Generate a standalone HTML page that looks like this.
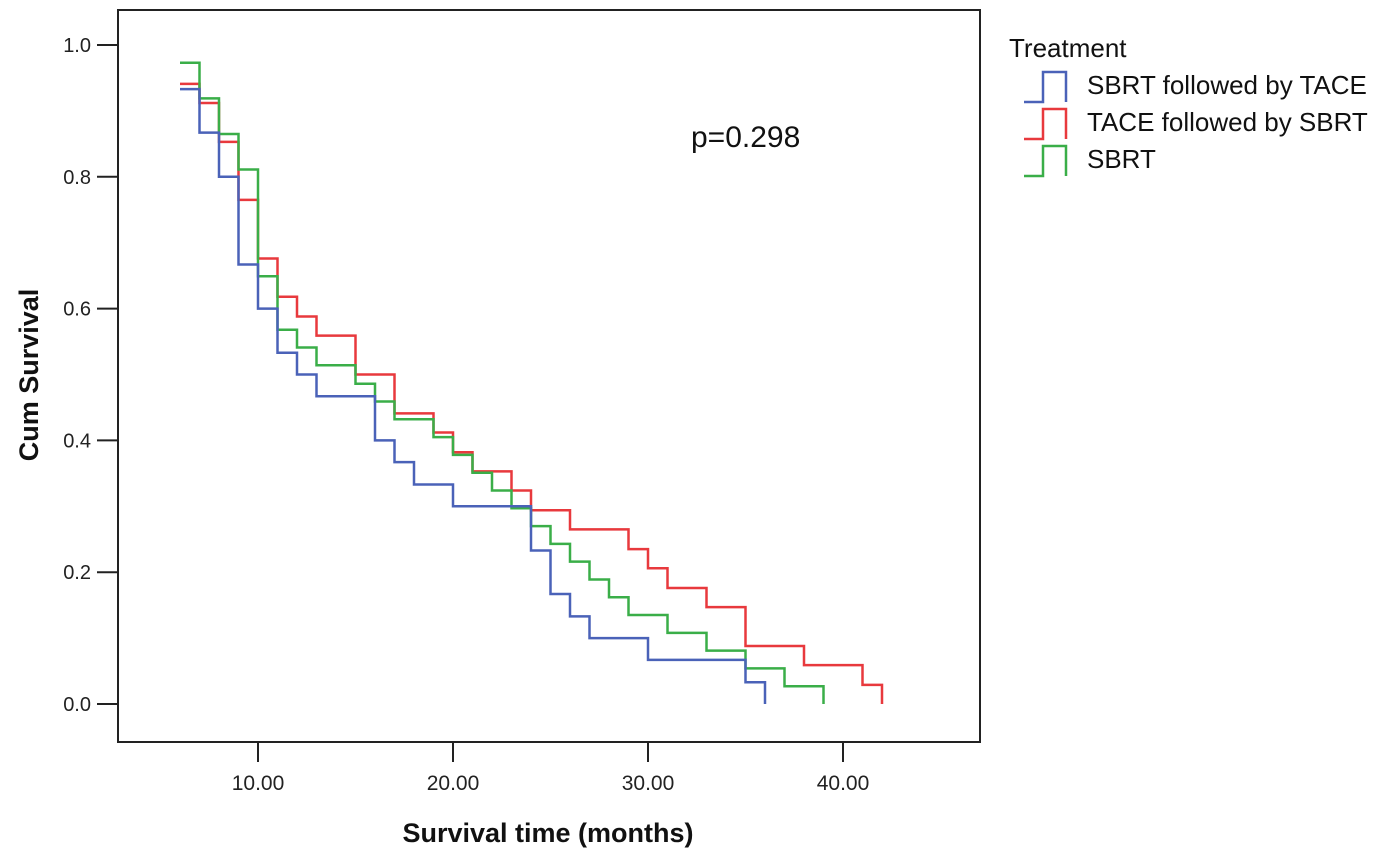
<!DOCTYPE html>
<html><head><meta charset="utf-8"><style>
body{margin:0;background:#fff;}
svg text{font-family:"Liberation Sans",Arial,sans-serif;}
</style></head><body>
<svg id="chart" width="1375" height="861" xmlns="http://www.w3.org/2000/svg">
<rect x="118" y="10" width="862" height="732" fill="none" stroke="#222" stroke-width="2"/>
<g id="ticks"></g>
<g id="series"></g>
<text x="548" y="842" font-size="27" font-weight="bold" text-anchor="middle" fill="#111">Survival time (months)</text>
<text transform="translate(38,375) rotate(-90)" font-size="27" font-weight="bold" text-anchor="middle" fill="#111">Cum Survival</text>
<text x="691" y="147" font-size="30" fill="#111">p=0.298</text>
<g>
<text x="1009" y="57" font-size="26" fill="#111">Treatment</text>
<g id="legend-entries"></g>
</g>
</svg>
<script>
const xTicks=[10,20,30,40];
const xTickLabels=["10.00","20.00","30.00","40.00"];
const yTicks=[0,0.2,0.4,0.6,0.8,1.0];
const yTickLabels=["0.0","0.2","0.4","0.6","0.8","1.0"];
const seriesNames=["SBRT followed by TACE","TACE followed by SBRT","SBRT"];
const seriesColors=["#4a62b8","#e8393d","#3aae48"];
const blueTimes=[6,7,8,9,10,11,12,13,16,17,18,20,24,25,26,27,30,35,36];
const blueSurv=[0.933,0.867,0.80,0.667,0.60,0.533,0.50,0.467,0.40,0.367,0.333,0.30,0.233,0.167,0.133,0.10,0.067,0.033,0];
const redTimes=[6,7,8,9,10,11,12,13,15,17,19,20,21,23,24,26,29,30,31,33,35,38,41,42];
const redSurv=[0.941,0.912,0.853,0.765,0.676,0.618,0.588,0.559,0.50,0.441,0.412,0.382,0.353,0.324,0.294,0.265,0.235,0.206,0.176,0.147,0.088,0.059,0.029,0];
const greenTimes=[6,7,8,9,10,11,12,13,15,16,17,19,20,21,22,23,24,25,26,27,28,29,31,33,35,37,39];
const greenSurv=[0.973,0.919,0.865,0.811,0.649,0.568,0.541,0.514,0.486,0.459,0.432,0.405,0.378,0.351,0.324,0.297,0.270,0.243,0.216,0.189,0.162,0.135,0.108,0.081,0.054,0.027,0];
const X=t=>258+(t-10)*19.5;
const Y=s=>704-s*659;
const NS="http://www.w3.org/2000/svg";
const tg=document.getElementById('ticks');
function mk(tag,attrs,parent){const e=document.createElementNS(NS,tag);for(const k in attrs)e.setAttribute(k,attrs[k]);parent.appendChild(e);return e;}
xTicks.forEach((t,i)=>{
 const l=mk('line',{x1:X(t),x2:X(t),y1:742,y2:762,stroke:'#222','stroke-width':2},tg);
 
 
 const tx=mk('text',{x:X(t),y:790,'font-size':21,'text-anchor':'middle',fill:'#222'},tg);
 tx.textContent=xTickLabels[i];
 
 
});
yTicks.forEach((v,i)=>{
 const l=mk('line',{x1:97,x2:118,y1:Y(v),y2:Y(v),stroke:'#222','stroke-width':2},tg);
 
 
 const tx=mk('text',{x:91,y:Y(v)+7,'font-size':20,'text-anchor':'end',fill:'#222'},tg);
 tx.textContent=yTickLabels[i];
 
 
});
const sg=document.getElementById('series');
const allT=[blueTimes,redTimes,greenTimes], allS=[blueSurv,redSurv,greenSurv];
const snames=['km-curve-sbrt-then-tace','km-curve-tace-then-sbrt','km-curve-sbrt'];
[1,2,0].forEach(k=>{
 const ts=allT[k], ss=allS[k];
 let d='M'+X(ts[0])+','+Y(ss[0]);
 for(let i=1;i<ts.length;i++){d+=' H'+X(ts[i])+' V'+Y(ss[i]);}
 const p=mk('path',{d:d,fill:'none',stroke:seriesColors[k],'stroke-width':2.5},sg);
 
 
});
const lg=document.getElementById('legend-entries');
seriesNames.forEach((n,i)=>{
 const y0=68+i*37;
 const p=mk('path',{d:`M1024,${y0+34} H1043 V${y0+4} H1066 V${y0+34}`,fill:'none',stroke:seriesColors[i],'stroke-width':2.5},lg);
 
 
 const t=mk('text',{x:1087,y:y0+26,'font-size':26,fill:'#111'},lg);
 t.textContent=n;
 
 
});
</script>
</body></html>
